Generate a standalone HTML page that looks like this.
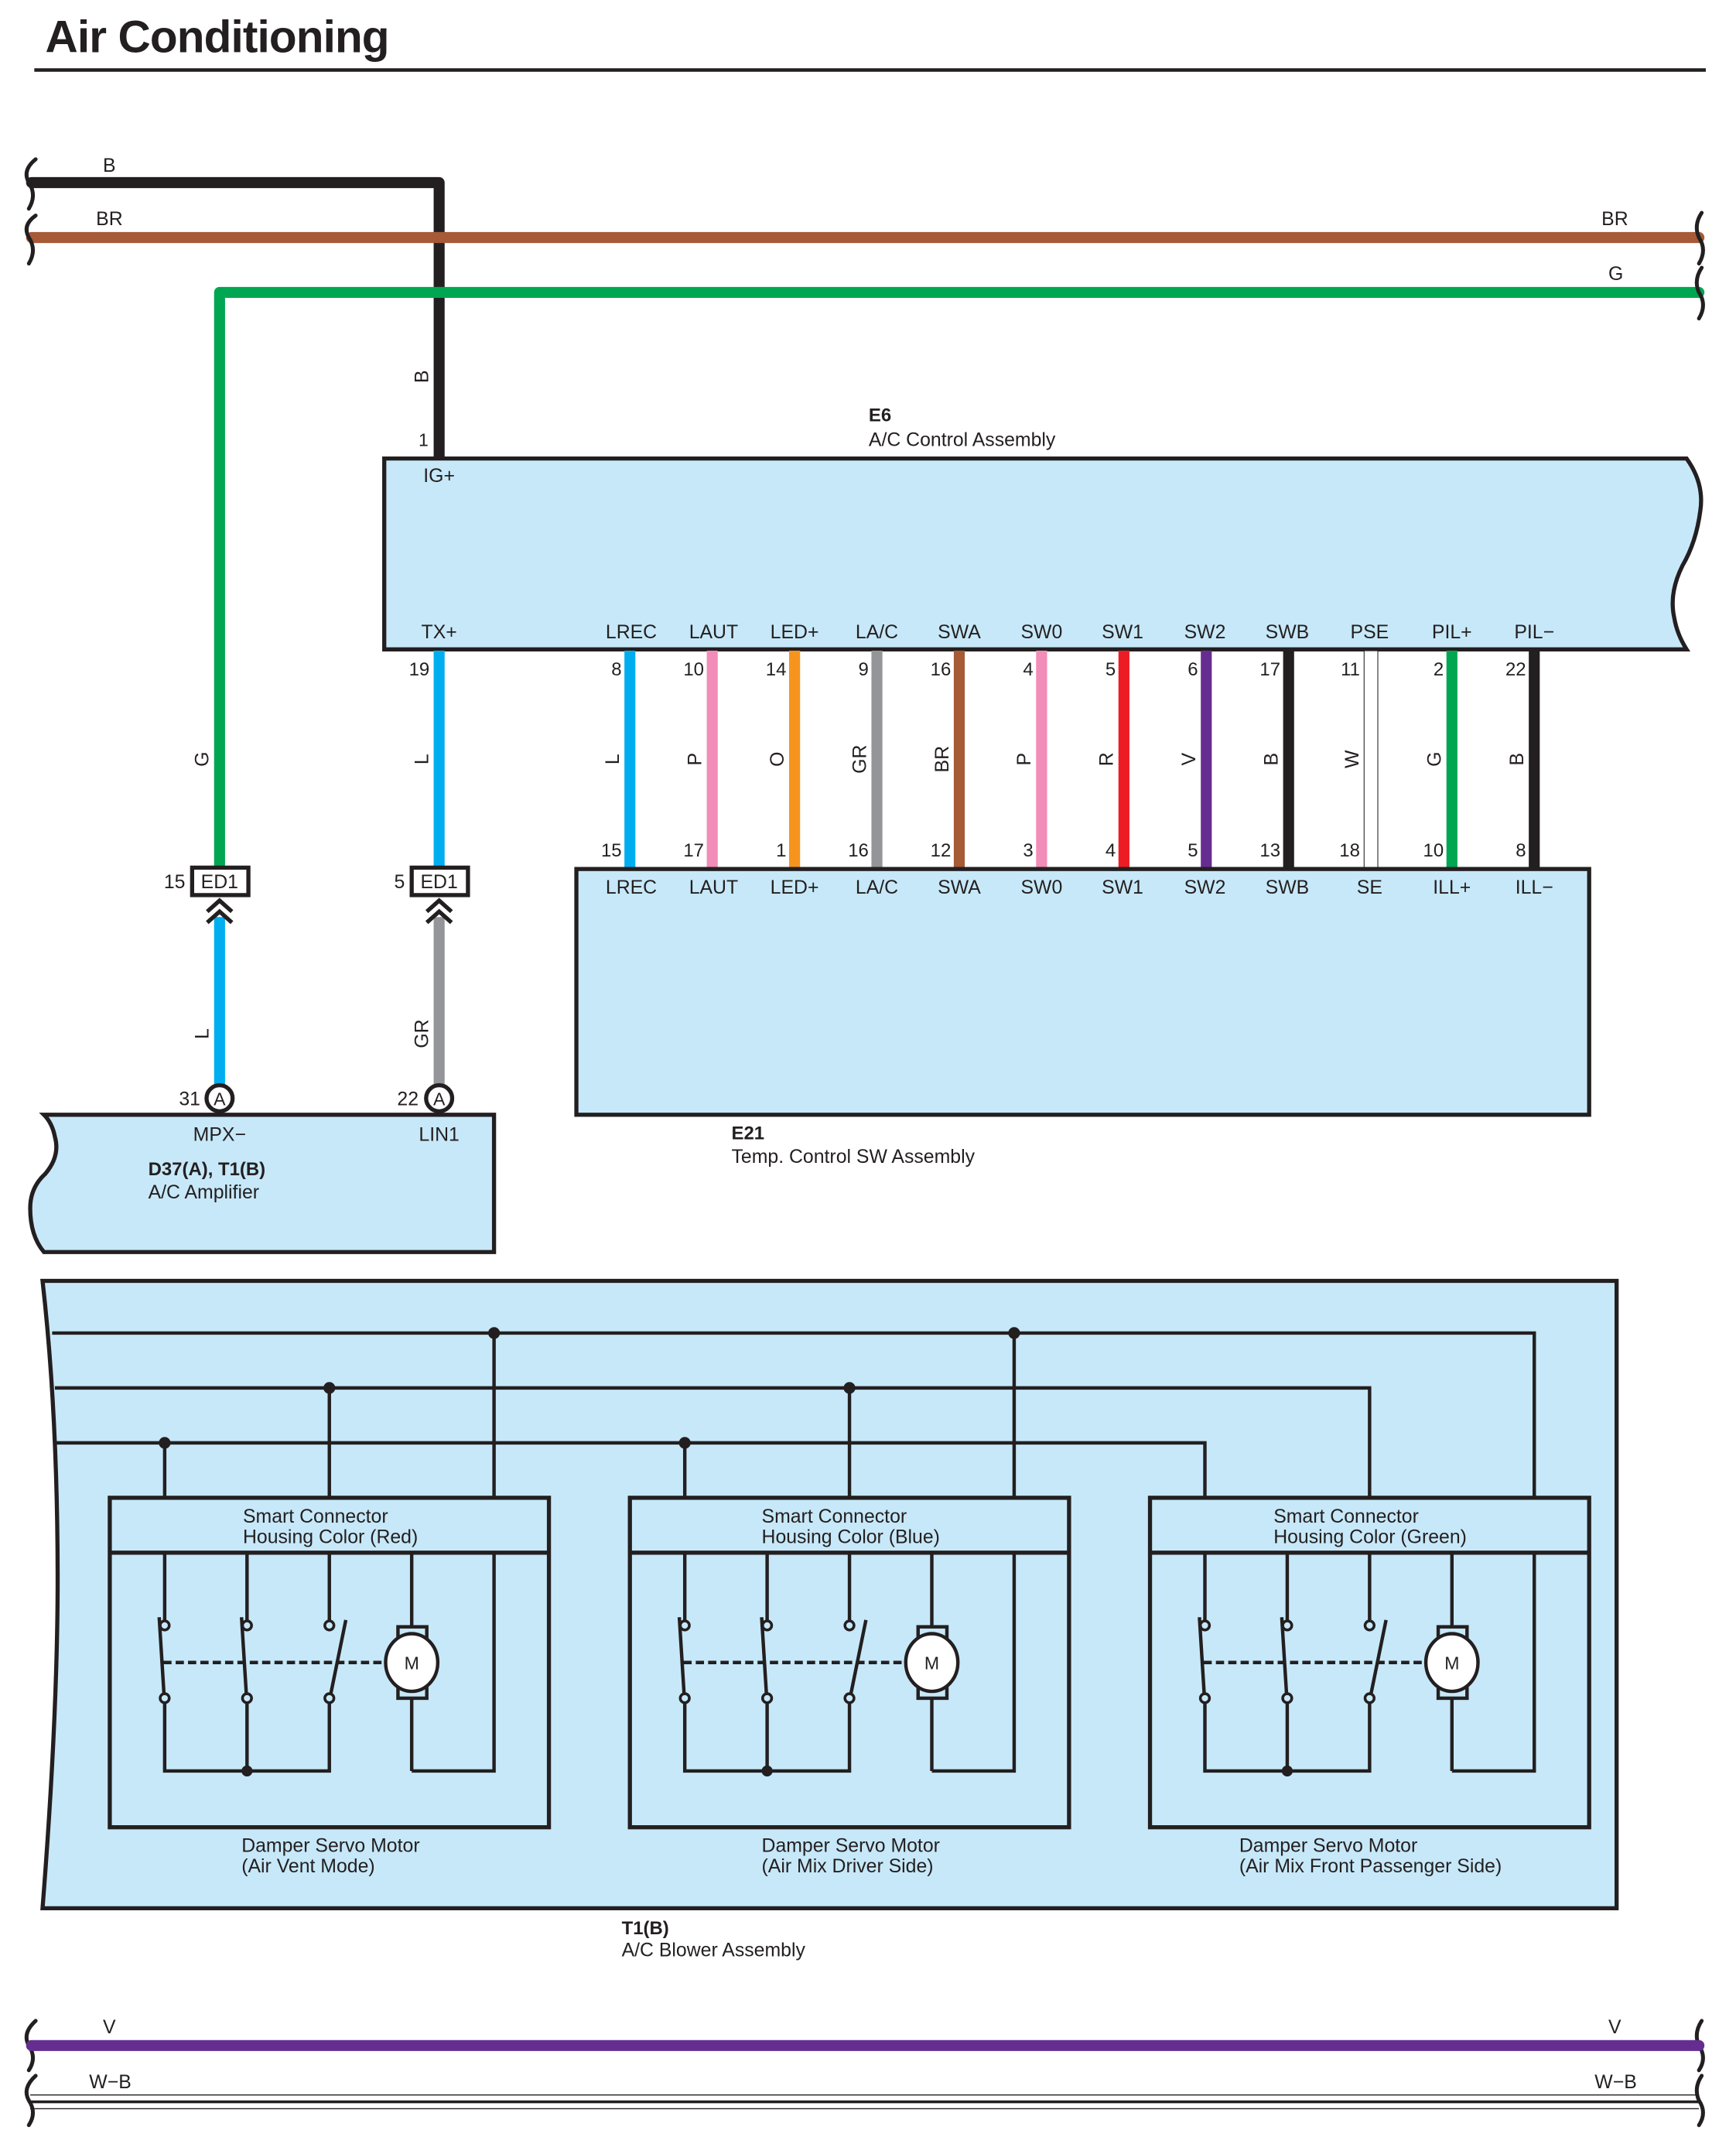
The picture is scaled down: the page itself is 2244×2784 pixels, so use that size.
<!DOCTYPE html>
<html><head><meta charset="utf-8"><style>
html,body{margin:0;padding:0;background:#fff}
svg{display:block}
text{font-family:"Liberation Sans",sans-serif;fill:#231f20}
</style></head><body>
<svg width="2244" height="2784" viewBox="0 0 1265 1569" preserveAspectRatio="none" xmlns="http://www.w3.org/2000/svg">
<defs>
<g id="servo" fill="none" stroke="#231f20" stroke-width="2.5">
  <rect x="80" y="1091" width="320" height="240" stroke-width="3"/>
  <line x1="80" y1="1131" x2="400" y2="1131" stroke-width="3"/>
  <!-- contact columns -->
  <line x1="120" y1="1131" x2="120" y2="1181"/>
  <line x1="180" y1="1131" x2="180" y2="1181"/>
  <line x1="240" y1="1131" x2="240" y2="1181"/>
  <circle cx="120" cy="1184" r="3.3" fill="#c7e8f8" stroke-width="2"/>
  <circle cx="180" cy="1184" r="3.3" fill="#c7e8f8" stroke-width="2"/>
  <circle cx="240" cy="1184" r="3.3" fill="#c7e8f8" stroke-width="2"/>
  <circle cx="120" cy="1237" r="3.3" fill="#c7e8f8" stroke-width="2"/>
  <circle cx="180" cy="1237" r="3.3" fill="#c7e8f8" stroke-width="2"/>
  <circle cx="240" cy="1237" r="3.3" fill="#c7e8f8" stroke-width="2"/>
  <line x1="116" y1="1178" x2="119.5" y2="1234"/>
  <line x1="176" y1="1178" x2="179.5" y2="1234"/>
  <line x1="241" y1="1234" x2="252" y2="1180"/>
  <line x1="119" y1="1211" x2="279" y2="1211" stroke-dasharray="6,3"/>
  <!-- motor -->
  <line x1="300" y1="1131" x2="300" y2="1186"/>
  <rect x="290" y="1185" width="21" height="9" fill="#c7e8f8"/>
  <rect x="290" y="1228" width="21" height="9" fill="#c7e8f8"/>
  <ellipse cx="300" cy="1211" rx="19" ry="21" fill="#fff"/>
  <line x1="300" y1="1237" x2="300" y2="1290"/>
  <polyline points="300,1290 360,1290 360,1131"/>
  <!-- bottoms -->
  <polyline points="120,1240 120,1290 240,1290 240,1240"/>
  <line x1="180" y1="1240" x2="180" y2="1290"/>
  <circle cx="180" cy="1290" r="4" fill="#231f20" stroke="none"/>
</g>
</defs>

<!-- title -->
<text x="33" y="38" font-size="33" font-weight="bold" letter-spacing="-0.5">Air Conditioning</text>
<line x1="25" y1="51" x2="1243" y2="51" stroke="#231f20" stroke-width="2.5"/>

<!-- top wires -->
<g fill="none" stroke-linecap="round" stroke-linejoin="round">
<path d="M23,133 L320,133 L320,333" stroke="#231f20" stroke-width="8"/>
<line x1="23" y1="173" x2="1238" y2="173" stroke="#a65a36" stroke-width="8"/>
<path d="M160,632 L160,213 L1238,213" stroke="#00a651" stroke-width="8"/>
<!-- break symbols -->
<g stroke="#231f20" stroke-width="2.8">
<path d="M26,116 Q16,124 21,133 Q27,142 21,152"/>
<path d="M26,157 Q16,164 21,173 Q27,182 21,192"/>
<path d="M1240,155 Q1234,164 1238,173 Q1244,182 1238,192"/>
<path d="M1240,195 Q1234,204 1238,213 Q1244,222 1238,232"/>
<path d="M26,1472 Q16,1481 21,1490 Q27,1499 21,1508"/>
<path d="M26,1512 Q16,1521 21,1530 Q27,1539 21,1548"/>
<path d="M1240,1472 Q1234,1481 1238,1490 Q1244,1499 1238,1508"/>
<path d="M1240,1512 Q1234,1521 1238,1530 Q1244,1539 1238,1548"/>
</g>
</g>
<g font-size="14">
<text x="75" y="125">B</text>
<text x="70" y="164">BR</text>
<text x="1167" y="164">BR</text>
<text x="1172" y="204">G</text>
</g>
<text transform="translate(312,279) rotate(-90)" font-size="14">B</text>
<text x="305" y="325" font-size="13">1</text>

<!-- E6 -->
<path d="M280,334 L1229,334 Q1242,352 1239,372 Q1236,395 1226,412 Q1216,432 1220,450 Q1222,462 1229,473 L280,473 Z" fill="#c7e8f8" stroke="#231f20" stroke-width="3"/>
<text x="633" y="307" font-size="13.5" font-weight="bold">E6</text>
<text x="633" y="325" font-size="14">A/C Control Assembly</text>
<text x="320" y="351" font-size="14" text-anchor="middle">IG+</text>
<g font-size="14" text-anchor="middle">
<text x="320" y="465">TX+</text><text x="460" y="465">LREC</text><text x="520" y="465">LAUT</text><text x="579" y="465">LED+</text><text x="639" y="465">LA/C</text><text x="699" y="465">SWA</text><text x="759" y="465">SW0</text><text x="818" y="465">SW1</text><text x="878" y="465">SW2</text><text x="938" y="465">SWB</text><text x="998" y="465">PSE</text><text x="1058" y="465">PIL+</text><text x="1118" y="465">PIL−</text>
</g>

<!-- vertical wires -->
<g stroke-width="8" stroke-linecap="butt">
<line x1="320" y1="474" x2="320" y2="632" stroke="#00aeef"/>
<line x1="459" y1="474" x2="459" y2="632" stroke="#00aeef"/>
<line x1="519" y1="474" x2="519" y2="632" stroke="#f28cb8"/>
<line x1="579" y1="474" x2="579" y2="632" stroke="#f7941d"/>
<line x1="639" y1="474" x2="639" y2="632" stroke="#939598"/>
<line x1="699" y1="474" x2="699" y2="632" stroke="#a65a36"/>
<line x1="759" y1="474" x2="759" y2="632" stroke="#f28cb8"/>
<line x1="819" y1="474" x2="819" y2="632" stroke="#ed1c24"/>
<line x1="879" y1="474" x2="879" y2="632" stroke="#662d91"/>
<line x1="939" y1="474" x2="939" y2="632" stroke="#231f20"/>
<line x1="1058" y1="474" x2="1058" y2="632" stroke="#00a651"/>
<line x1="1118" y1="474" x2="1118" y2="632" stroke="#231f20"/>
</g>
<rect x="994" y="474" width="10" height="158" fill="#fff" stroke="#231f20" stroke-width="0.6"/>
<g font-size="13.5" text-anchor="end">
<text x="313" y="492">19</text><text x="453" y="492">8</text><text x="513" y="492">10</text><text x="573" y="492">14</text><text x="633" y="492">9</text><text x="693" y="492">16</text><text x="753" y="492">4</text><text x="813" y="492">5</text><text x="873" y="492">6</text><text x="933" y="492">17</text><text x="991" y="492">11</text><text x="1052" y="492">2</text><text x="1112" y="492">22</text>
<text x="453" y="624">15</text><text x="513" y="624">17</text><text x="573" y="624">1</text><text x="633" y="624">16</text><text x="693" y="624">12</text><text x="753" y="624">3</text><text x="813" y="624">4</text><text x="873" y="624">5</text><text x="933" y="624">13</text><text x="991" y="624">18</text><text x="1052" y="624">10</text><text x="1112" y="624">8</text>
</g>
<g font-size="14" text-anchor="middle">
<text transform="translate(312,553) rotate(-90)">L</text>
<text transform="translate(451,553) rotate(-90)">L</text>
<text transform="translate(511,553) rotate(-90)">P</text>
<text transform="translate(571,553) rotate(-90)">O</text>
<text transform="translate(631,553) rotate(-90)">GR</text>
<text transform="translate(691,553) rotate(-90)">BR</text>
<text transform="translate(751,553) rotate(-90)">P</text>
<text transform="translate(811,553) rotate(-90)">R</text>
<text transform="translate(871,553) rotate(-90)">V</text>
<text transform="translate(931,553) rotate(-90)">B</text>
<text transform="translate(990,553) rotate(-90)">W</text>
<text transform="translate(1050,553) rotate(-90)">G</text>
<text transform="translate(1110,553) rotate(-90)">B</text>
<text transform="translate(152,553) rotate(-90)">G</text>
<text transform="translate(152,753) rotate(-90)">L</text>
<text transform="translate(312,753) rotate(-90)">GR</text>
</g>

<!-- E21 -->
<rect x="420" y="633" width="738" height="179" fill="#c7e8f8" stroke="#231f20" stroke-width="3"/>
<g font-size="14" text-anchor="middle">
<text x="460" y="651">LREC</text><text x="520" y="651">LAUT</text><text x="579" y="651">LED+</text><text x="639" y="651">LA/C</text><text x="699" y="651">SWA</text><text x="759" y="651">SW0</text><text x="818" y="651">SW1</text><text x="878" y="651">SW2</text><text x="938" y="651">SWB</text><text x="998" y="651">SE</text><text x="1058" y="651">ILL+</text><text x="1118" y="651">ILL−</text>
</g>
<text x="533" y="830" font-size="13.5" font-weight="bold">E21</text>
<text x="533" y="847" font-size="14">Temp.  Control SW Assembly</text>

<!-- ED1 connectors & amp wires -->
<line x1="160" y1="668" x2="160" y2="792" stroke="#00aeef" stroke-width="8"/>
<line x1="320" y1="668" x2="320" y2="792" stroke="#939598" stroke-width="8"/>
<g fill="none" stroke="#231f20" stroke-width="3">
<rect x="140" y="632" width="41" height="20" fill="#fff"/>
<rect x="300" y="632" width="41" height="20" fill="#fff"/>
<polyline points="151,664 160,656 169,664"/><polyline points="151,672 160,664 169,672"/>
<polyline points="311,664 320,656 329,664"/><polyline points="311,672 320,664 329,672"/>
</g>
<g font-size="14">
<text x="160" y="647" text-anchor="middle">ED1</text>
<text x="320" y="647" text-anchor="middle">ED1</text>
<text x="135" y="647" text-anchor="end">15</text>
<text x="295" y="647" text-anchor="end">5</text>
<text x="146" y="805" text-anchor="end">31</text>
<text x="305" y="805" text-anchor="end">22</text>
</g>

<!-- Amplifier -->
<path d="M32,812 L360,812 L360,912 L32,912 Q22,900 22,880 Q22,865 33,855 Q44,842 40,828 Q38,818 32,812 Z" fill="#c7e8f8" stroke="#231f20" stroke-width="3"/>
<circle cx="160" cy="800" r="9.5" fill="#fff" stroke="#231f20" stroke-width="3"/>
<circle cx="320" cy="800" r="9.5" fill="#fff" stroke="#231f20" stroke-width="3"/>
<g font-size="13" text-anchor="middle"><text x="160" y="805">A</text><text x="320" y="805">A</text></g>
<g font-size="14" text-anchor="middle"><text x="160" y="831">MPX−</text><text x="320" y="831">LIN1</text></g>
<text x="108" y="856" font-size="13.5" font-weight="bold">D37(A), T1(B)</text>
<text x="108" y="873" font-size="14">A/C Amplifier</text>

<!-- Blower assembly -->
<path d="M31,933 L1178,933 L1178,1390 L31,1390 Q42,1250 42,1150 Q42,1030 31,933 Z" fill="#c7e8f8" stroke="#231f20" stroke-width="3"/>
<g fill="none" stroke="#231f20" stroke-width="2.5">
<polyline points="38,971 1118,971 1118,1091"/>
<polyline points="40,1011 998,1011 998,1091"/>
<polyline points="41,1051 878,1051 878,1091"/>
<line x1="360" y1="971" x2="360" y2="1091"/><line x1="739" y1="971" x2="739" y2="1091"/>
<line x1="240" y1="1011" x2="240" y2="1091"/><line x1="619" y1="1011" x2="619" y2="1091"/>
<line x1="120" y1="1051" x2="120" y2="1091"/><line x1="499" y1="1051" x2="499" y2="1091"/>
</g>
<g fill="#231f20">
<circle cx="360" cy="971" r="4.3"/><circle cx="739" cy="971" r="4.3"/>
<circle cx="240" cy="1011" r="4.3"/><circle cx="619" cy="1011" r="4.3"/>
<circle cx="120" cy="1051" r="4.3"/><circle cx="499" cy="1051" r="4.3"/>
</g>
<use href="#servo"/>
<use href="#servo" transform="translate(379,0)"/>
<use href="#servo" transform="translate(758,0)"/>
<g font-size="13" text-anchor="middle">
<text x="300" y="1216">M</text><text x="679" y="1216">M</text><text x="1058" y="1216">M</text>
</g>
<g font-size="14">
<text x="177" y="1109">Smart Connector</text><text x="177" y="1124">Housing Color (Red)</text>
<text x="555" y="1109">Smart Connector</text><text x="555" y="1124">Housing Color (Blue)</text>
<text x="928" y="1109">Smart Connector</text><text x="928" y="1124">Housing Color (Green)</text>
<text x="176" y="1349">Damper Servo Motor</text><text x="176" y="1364">(Air Vent Mode)</text>
<text x="555" y="1349">Damper Servo Motor</text><text x="555" y="1364">(Air Mix Driver Side)</text>
<text x="903" y="1349">Damper Servo Motor</text><text x="903" y="1364">(Air Mix Front Passenger Side)</text>
</g>
<text x="453" y="1409" font-size="13.5" font-weight="bold">T1(B)</text>
<text x="453" y="1425" font-size="14">A/C Blower Assembly</text>

<!-- bottom wires -->
<line x1="23" y1="1490" x2="1238" y2="1490" stroke="#662d91" stroke-width="8" stroke-linecap="round"/>
<line x1="22" y1="1526" x2="1238" y2="1526" stroke="#231f20" stroke-width="0.8"/>
<line x1="22" y1="1531" x2="1238" y2="1531" stroke="#231f20" stroke-width="2"/>
<line x1="22" y1="1536" x2="1238" y2="1536" stroke="#231f20" stroke-width="0.8"/>
<g font-size="14">
<text x="75" y="1481">V</text><text x="1172" y="1481">V</text>
<text x="65" y="1521">W−B</text><text x="1162" y="1521">W−B</text>
</g>
</svg>
</body></html>
